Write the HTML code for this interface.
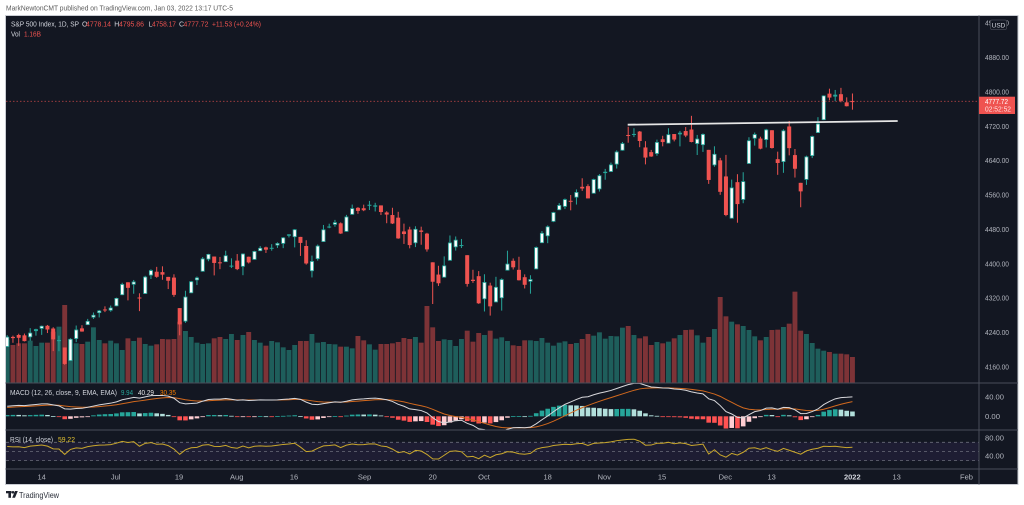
<!DOCTYPE html>
<html><head><meta charset="utf-8"><style>
html,body{margin:0;padding:0;background:#fff;}
svg{display:block;font-family:"Liberation Sans",sans-serif;}
</style></head><body>
<svg id="s" xmlns="http://www.w3.org/2000/svg" width="1024" height="505" viewBox="0 0 1024 505">
<rect width="1024" height="505" fill="#ffffff"/>
<text x="6" y="10.7" font-size="7.5" fill="#5a5a5a" textLength="227" lengthAdjust="spacingAndGlyphs">MarkNewtonCMT published on TradingView.com, Jan 03, 2022 13:17 UTC-5</text>
<rect x="5.5" y="15.5" width="1012.5" height="469" fill="#131722" stroke="#c9ccd3" stroke-width="1"/>
<defs>
<clipPath id="cm"><rect x="6" y="16" width="973" height="367"/></clipPath>
<clipPath id="cd"><rect x="6" y="383.5" width="973" height="46.5"/></clipPath>
<clipPath id="cr"><rect x="6" y="430.5" width="973" height="38.5"/></clipPath>
</defs>
<!-- RSI band -->
<rect x="6" y="442.3" width="973" height="18.3" fill="#1e1d33"/>
<g stroke="#787b86" stroke-width="0.8" stroke-dasharray="3 3" opacity="0.85">
<line x1="6" y1="442.3" x2="979" y2="442.3"/>
<line x1="6" y1="451.4" x2="979" y2="451.4"/>
<line x1="6" y1="460.6" x2="979" y2="460.6"/>
</g>
<g clip-path="url(#cm)"><g id="vol"></g><g id="cdl"></g>
<line x1="6" y1="101.3" x2="979" y2="101.3" stroke="#ef5350" stroke-width="0.8" stroke-dasharray="1.5 2" opacity="0.7"/>
<line x1="627.7" y1="124.7" x2="897.7" y2="121" stroke="#e6e6e6" stroke-width="1.8"/>
</g>
<g clip-path="url(#cd)"><g id="mh"></g><g id="ml"></g></g>
<g clip-path="url(#cr)"><g id="rl"></g></g>
<!-- separators -->
<g stroke="#4a4e5a" stroke-width="1">
<line x1="5.5" y1="383" x2="1018" y2="383"/>
<line x1="5.5" y1="430" x2="1018" y2="430"/>
<line x1="5.5" y1="469" x2="1018" y2="469"/>
<line x1="979" y1="15.5" x2="979" y2="484.5"/>
</g>
<!-- price axis -->
<g font-size="7.5" fill="#b2b5be">
<text x="985" y="25.6" textLength="24" lengthAdjust="spacingAndGlyphs">4960.00</text>
<text x="985" y="60" textLength="24" lengthAdjust="spacingAndGlyphs">4880.00</text>
<text x="985" y="94.4" textLength="24" lengthAdjust="spacingAndGlyphs">4800.00</text>
<text x="985" y="128.8" textLength="24" lengthAdjust="spacingAndGlyphs">4720.00</text>
<text x="985" y="163.2" textLength="24" lengthAdjust="spacingAndGlyphs">4640.00</text>
<text x="985" y="197.6" textLength="24" lengthAdjust="spacingAndGlyphs">4560.00</text>
<text x="985" y="231.9" textLength="24" lengthAdjust="spacingAndGlyphs">4480.00</text>
<text x="985" y="266.3" textLength="24" lengthAdjust="spacingAndGlyphs">4400.00</text>
<text x="985" y="300.7" textLength="24" lengthAdjust="spacingAndGlyphs">4320.00</text>
<text x="985" y="335.1" textLength="24" lengthAdjust="spacingAndGlyphs">4240.00</text>
<text x="985" y="369.5" textLength="24" lengthAdjust="spacingAndGlyphs">4160.00</text>
<text x="985" y="399.7" textLength="19" lengthAdjust="spacingAndGlyphs">40.00</text>
<text x="985" y="419" textLength="15" lengthAdjust="spacingAndGlyphs">0.00</text>
<text x="985" y="440.4" textLength="19" lengthAdjust="spacingAndGlyphs">80.00</text>
<text x="985" y="458.7" textLength="19" lengthAdjust="spacingAndGlyphs">40.00</text>
</g>
<rect x="990.5" y="20" width="16" height="9.5" rx="1.5" fill="#131722" stroke="#434651" stroke-width="0.8"/>
<text x="998.5" y="27.3" font-size="6.5" fill="#d1d4dc" text-anchor="middle">USD</text>
<rect x="979" y="96.7" width="36" height="17.3" fill="#ef5350"/>
<text x="985" y="104.2" font-size="7" fill="#ffffff" textLength="23" lengthAdjust="spacingAndGlyphs">4777.72</text>
<text x="985" y="111.6" font-size="7" fill="#ffe0e0" textLength="26" lengthAdjust="spacingAndGlyphs">02:52:52</text>
<!-- legend -->
<g font-size="7">
<text x="11" y="26.5" fill="#d1d4dc" textLength="68" lengthAdjust="spacingAndGlyphs">S&amp;P 500 Index, 1D, SP</text>
<text x="82" y="26.5" fill="#d1d4dc">O</text>
<text x="86" y="26.5" fill="#ef5350" textLength="25" lengthAdjust="spacingAndGlyphs">4778.14</text>
<text x="114.3" y="26.5" fill="#d1d4dc">H</text>
<text x="119" y="26.5" fill="#ef5350" textLength="25" lengthAdjust="spacingAndGlyphs">4795.86</text>
<text x="148.5" y="26.5" fill="#d1d4dc">L</text>
<text x="152" y="26.5" fill="#ef5350" textLength="24" lengthAdjust="spacingAndGlyphs">4758.17</text>
<text x="179" y="26.5" fill="#d1d4dc">C</text>
<text x="183.5" y="26.5" fill="#ef5350" textLength="25" lengthAdjust="spacingAndGlyphs">4777.72</text>
<text x="212" y="26.5" fill="#ef5350" textLength="49" lengthAdjust="spacingAndGlyphs">+11.53 (+0.24%)</text>
<text x="11" y="36.5" fill="#d1d4dc" textLength="9" lengthAdjust="spacingAndGlyphs">Vol</text>
<text x="24" y="36.5" fill="#ef5350" textLength="17" lengthAdjust="spacingAndGlyphs">1.16B</text>
<text x="10" y="395.2" fill="#d1d4dc" textLength="107" lengthAdjust="spacingAndGlyphs">MACD (12, 26, close, 9, EMA, EMA)</text>
<text x="121" y="395.2" fill="#26a69a" textLength="12" lengthAdjust="spacingAndGlyphs">9.94</text>
<text x="138" y="395.2" fill="#e6e6e6" textLength="16" lengthAdjust="spacingAndGlyphs">40.29</text>
<text x="160" y="395.2" fill="#f57c00" textLength="16" lengthAdjust="spacingAndGlyphs">30.35</text>
<text x="10" y="441.8" fill="#d1d4dc" textLength="43" lengthAdjust="spacingAndGlyphs">RSI (14, close)</text>
<text x="58" y="441.8" fill="#e3c231" textLength="17" lengthAdjust="spacingAndGlyphs">59.22</text>
</g>
<!-- time axis -->
<g font-size="7.5" fill="#b2b5be" text-anchor="middle">
<text x="41.7" y="479.5">14</text>
<text x="115.7" y="479.5">Jul</text>
<text x="179" y="479.5">19</text>
<text x="236.7" y="479.5">Aug</text>
<text x="294" y="479.5">16</text>
<text x="364.5" y="479.5">Sep</text>
<text x="432.7" y="479.5">20</text>
<text x="484" y="479.5">Oct</text>
<text x="547.7" y="479.5">18</text>
<text x="604.3" y="479.5">Nov</text>
<text x="662" y="479.5">15</text>
<text x="725.3" y="479.5">Dec</text>
<text x="771.7" y="479.5">13</text>
<text x="852.3" y="479.5" fill="#d1d4dc" font-weight="bold">2022</text>
<text x="896.7" y="479.5">13</text>
<text x="966.5" y="479.5">Feb</text>
</g>
<!-- bottom logo -->
<g fill="#1e222d">
<rect x="6" y="491" width="5.5" height="2.3"/>
<rect x="8.4" y="491" width="2.6" height="6.8"/>
<circle cx="13" cy="492.3" r="1.3"/>
<polygon points="15,491 17.8,491 15,497.8 12.2,497.8"/>
</g>
<text x="19" y="497.8" font-size="8.5" fill="#2a2e39" textLength="40" lengthAdjust="spacingAndGlyphs">TradingView</text>
</svg>
<script>
(function(){
var NS='http://www.w3.org/2000/svg';
function el(t,a,p){var e=document.createElementNS(NS,t);for(var k in a)e.setAttribute(k,a[k]);p.appendChild(e);return e;}
var W=[3940.59,3910.52,3889.14,3909.52,3974.54,3971.09,3958.55,3972.89,4019.87,4077.91,4073.94,4079.95,4097.17,4128.80,4127.99,4141.59,4124.66,4170.42,4185.47,4163.26,4134.94,4173.42,4134.98,4180.17,4187.62,4186.72,4183.18,4211.47,4181.17,4192.66,4164.66,4167.59,4201.62,4232.60,4188.43,4152.10,4063.04,4112.50,4173.85,4163.29,4127.83,4115.68,4159.12,4155.86,4197.05,4188.13,4195.99,4200.88,4204.11,4202.04,4208.12,4192.85];
var S="4206.05,4233.45,4206.05,4229.89|4229.34,4232.34,4215.66,4226.52|4233.81,4236.74,4208.41,4227.26|4232.99,4237.09,4218.74,4219.55|4228.56,4249.74,4220.34,4239.18|4242.90,4248.38,4232.25,4247.44|4248.31,4255.59,4234.07,4255.15|4255.28,4257.16,4238.35,4246.59|4248.87,4251.89,4196.30,4223.70|4220.37,4232.29,4196.05,4221.86|4204.78,4204.78,4164.40,4166.45|4173.40,4226.24,4173.40,4224.79|4224.61,4255.84,4217.27,4246.44|4249.27,4256.60,4241.43,4241.84|4256.97,4271.28,4256.97,4266.49|4274.45,4286.12,4271.16,4280.70|4284.90,4292.14,4274.67,4290.61|4293.21,4300.52,4287.04,4291.80|4290.65,4302.43,4287.96,4297.50|4300.73,4320.66,4300.73,4319.94|4326.60,4355.43,4326.60,4352.34|4356.46,4356.46,4314.37,4343.54|4351.01,4361.88,4329.79,4358.13|4321.07,4330.88,4289.37,4320.82|4329.38,4371.60,4329.38,4369.55|4372.41,4386.68,4364.03,4384.63|4381.07,4392.37,4366.92,4369.21|4380.11,4393.68,4362.36,4374.30|4369.02,4369.02,4340.70,4360.03|4367.43,4375.09,4322.53,4327.16|4296.40,4296.40,4233.13,4258.49|4265.11,4336.84,4262.05,4323.06|4331.13,4359.70,4331.13,4358.69|4361.27,4369.87,4350.06,4367.48|4381.20,4415.18,4381.20,4411.79|4409.58,4422.73,4405.45,4422.30|4416.38,4416.38,4372.51,4401.46|4402.95,4415.47,4387.01,4400.64|4403.59,4429.97,4403.59,4419.15|4395.12,4412.25,4389.65,4395.26|4406.86,4422.18,4384.81,4387.16|4392.74,4423.79,4373.00,4423.15|4415.95,4416.17,4400.23,4402.66|4408.86,4429.76,4408.86,4429.10|4429.07,4440.82,4429.07,4436.52|4437.77,4439.39,4424.74,4432.35|4435.79,4445.21,4430.03,4436.75|4442.18,4449.44,4436.42,4447.70|4446.08,4461.77,4435.96,4460.83|4464.84,4468.37,4460.82,4468.00|4461.65,4480.26,4437.66,4479.71|4462.12,4462.12,4417.83,4448.08|4440.94,4454.32,4397.59,4400.27|4382.44,4418.61,4367.73,4405.80|4410.56,4444.35,4406.80,4441.67|4450.29,4489.88,4450.29,4479.53|4484.40,4492.81,4482.28,4486.23|4490.45,4501.71,4485.66,4496.19|4493.75,4495.90,4468.99,4470.00|4474.10,4513.33,4474.10,4509.37|4513.76,4537.36,4513.76,4528.79|4529.75,4531.39,4515.80,4522.68|4528.80,4537.11,4522.02,4524.09|4534.48,4545.85,4524.66,4536.95|4532.42,4541.45,4521.30,4535.43|4535.38,4535.38,4513.00,4520.03|4519.00,4521.79,4493.95,4514.07|4513.02,4529.90,4492.07,4493.28|4506.92,4520.47,4457.66,4458.58|4474.81,4492.99,4445.70,4468.73|4479.33,4485.68,4435.46,4443.05|4447.49,4486.87,4438.37,4480.70|4477.09,4485.87,4443.80,4473.75|4469.74,4471.52,4427.76,4432.99|4402.95,4402.95,4305.91,4357.73|4374.45,4394.87,4347.96,4354.19|4367.43,4416.75,4367.43,4395.64|4406.75,4465.40,4406.75,4448.98|4438.04,4463.12,4430.27,4455.48|4442.12,4457.30,4436.19,4443.11|4419.54,4419.54,4346.33,4352.63|4362.41,4385.57,4355.08,4359.46|4370.67,4382.55,4306.24,4307.54|4317.16,4375.19,4288.52,4357.04|4348.84,4355.51,4278.94,4300.46|4309.87,4369.23,4309.87,4345.72|4319.57,4365.57,4290.49,4363.55|4383.73,4429.97,4383.73,4399.76|4406.51,4412.02,4386.22,4391.34|4385.44,4415.88,4360.59,4361.19|4368.31,4374.89,4342.09,4350.65|4358.01,4372.87,4329.92,4363.80|4386.75,4439.73,4386.75,4438.26|4447.69,4475.82,4447.69,4471.37|4463.72,4488.75,4447.47,4486.46|4497.34,4520.40,4496.41,4519.63|4524.42,4540.87,4524.40,4536.19|4532.24,4551.44,4526.89,4549.78|4546.12,4559.67,4524.00,4544.90|4553.69,4572.62,4537.36,4566.48|4578.69,4598.53,4569.17,4574.79|4580.22,4584.57,4551.66,4551.68|4562.84,4597.55,4562.84,4596.42|4572.87,4608.08,4567.59,4605.38|4610.62,4620.34,4595.06,4613.67|4613.34,4635.15,4613.34,4630.65|4630.65,4663.46,4621.19,4660.57|4662.93,4683.00,4662.59,4680.06|4699.26,4718.50,4681.32,4697.53|4701.48,4714.92,4694.39,4701.70|4707.25,4708.53,4670.87,4685.25|4670.26,4684.85,4630.86,4646.71|4659.39,4664.55,4648.31,4649.27|4655.24,4688.47,4650.77,4682.85|4689.30,4697.42,4672.86,4682.80|4679.42,4714.95,4679.42,4700.90|4701.50,4701.50,4684.41,4688.67|4700.72,4708.80,4672.78,4704.54|4708.44,4717.75,4694.22,4697.96|4712.00,4743.83,4682.17,4682.94|4678.48,4699.39,4652.66,4690.70|4675.78,4702.87,4659.89,4701.46|4664.63,4664.63,4585.43,4594.62|4628.75,4672.95,4625.26,4655.27|4640.25,4646.02,4560.00,4567.00|4602.82,4652.94,4510.27,4513.04|4504.73,4595.46,4504.73,4577.10|4589.49,4608.03,4495.12,4538.43|4548.37,4612.60,4540.51,4591.67|4631.97,4694.04,4631.97,4686.75|4690.86,4705.06,4674.52,4701.21|4691.00,4695.26,4665.98,4667.45|4687.64,4713.57,4670.24,4712.02|4710.30,4710.30,4667.60,4668.97|4642.99,4660.47,4606.52,4634.09|4636.46,4712.60,4611.22,4709.85|4719.13,4731.99,4651.89,4668.67|4652.50,4666.70,4600.22,4620.64|4587.90,4587.90,4531.10,4568.02|4594.96,4651.14,4583.16,4649.23|4650.36,4697.67,4645.53,4696.56|4703.96,4740.74,4703.96,4725.79|4733.99,4791.49,4733.99,4791.19|4795.49,4807.02,4780.04,4786.35|4788.64,4804.06,4778.08,4793.06|4794.23,4808.93,4775.33,4778.73|4775.21,4786.83,4765.75,4766.18|4778.14,4795.86,4758.17,4777.72";
var D=S.split('|').map(function(r){return r.split(',').map(Number);});
var VZ=[150,165,160,160,152,168,
158,158,125,110,45,148,160,162,155,112,
150,160,152,160,180,145,153,143,162,167,
163,147,148,147,95,123,141,158,162,160,
145,141,147,132,150,135,126,150,158,167,
153,157,172,180,165,153,153,132,158,156,
162,163,170,170,175,138,151,163,179,162,
162,160,156,144,147,141,158,48,112,153,
148,150,168,147,122,155,129,135,122,146,
142,153,166,168,151,151,153,144,158,167,
158,154,162,159,147,132,137,127,146,138,
139,113,108,135,145,139,165,156,160,155,
145,135,120,119,136,158,141,117,21,79,
95,103,108,120,139,151,141,120,119,111,
101,5,122,132,159,176,182,186,191,191,
193,201];
function X(i){return 41.7+5.75*i;}
function Y(p){return 91.7+(4800-p)*0.4297;}
var gV=document.getElementById('vol'),gC=document.getElementById('cdl');
D.forEach(function(d,k){
 var i=k-6,o=d[0],h=d[1],l=d[2],c=d[3],x=X(i),up=c>=o;
 var top=290+VZ[k]/3;
 el('rect',{x:(x-2.45).toFixed(2),y:top.toFixed(2),width:4.9,height:(383-top).toFixed(2),fill:up?'#1e5e5b':'#7d3337'},gV);
 el('rect',{x:(x-0.5).toFixed(2),y:Y(h).toFixed(2),width:1,height:Math.max(1,Y(l)-Y(h)).toFixed(2),fill:up?'#26a69a':'#ef5350'},gC);
 var yt=Y(Math.max(o,c)),yb=Y(Math.min(o,c)),bh=Math.max(1,yb-yt);
 if(up){
  el('rect',{x:(x-2).toFixed(2),y:yt.toFixed(2),width:4,height:bh.toFixed(2),fill:'#26a69a'},gC);
  if(bh>2)el('rect',{x:(x-1.2).toFixed(2),y:(yt+0.8).toFixed(2),width:2.4,height:(bh-1.6).toFixed(2),fill:'#ffffff'},gC);
 } else {
  el('rect',{x:(x-2).toFixed(2),y:yt.toFixed(2),width:4,height:bh.toFixed(2),fill:'#ef5350'},gC);
 }
});
var C=W.concat(D.map(function(d){return d[3];}));
function ema(a,n){var k=2/(n+1),r=[],e=a[0];for(var j=0;j<a.length;j++){e=j?k*a[j]+(1-k)*e:a[0];r.push(e);}return r;}
var e12=ema(C,12),e26=ema(C,26),m=C.map(function(v,j){return e12[j]-e26[j];}),s=ema(m,9),hs=m.map(function(v,j){return v-s[j];});
var gH=document.getElementById('mh'),gL=document.getElementById('ml');
var off=W.length,mp=[],sp=[];
function MY(v){return 416.3-v*0.4825;}
for(var k=0;k<D.length;k++){
 var t=off+k,i=k-6,x=X(i),hv=hs[t],pv=hs[t-1];
 var col=hv>=0?(hv>pv?'#26a69a':'#b2dfdb'):(hv<pv?'#ff5252':'#ffcdd2');
 var y1=MY(hv),y0=MY(0);
 el('rect',{x:(x-2.3).toFixed(2),y:Math.min(y0,y1).toFixed(2),width:4.6,height:Math.max(0.8,Math.abs(y1-y0)).toFixed(2),fill:col},gH);
 mp.push(x.toFixed(2)+','+MY(m[t]).toFixed(2));
 sp.push(x.toFixed(2)+','+MY(s[t]).toFixed(2));
}
el('polyline',{points:sp.join(' '),fill:'none',stroke:'#d2691e','stroke-width':1},gL);
el('polyline',{points:mp.join(' '),fill:'none',stroke:'#d8d8dc','stroke-width':1},gL);
var ag=0,al=0,rsi=[];
for(var j=1;j<C.length;j++){var ch=C[j]-C[j-1],g=Math.max(ch,0),lo=Math.max(-ch,0);
 if(j<=14){ag+=g/14;al+=lo/14;rsi[j]=(j==14)?100-100/(1+ag/al):null;}
 else{ag=(ag*13+g)/14;al=(al*13+lo)/14;rsi[j]=al==0?100:100-100/(1+ag/al);}}
var rp=[];
for(var k2=0;k2<D.length;k2++){var t2=off+k2;rp.push(X(k2-6).toFixed(2)+','+(437.7+(80-rsi[t2])*0.4583).toFixed(2));}
el('polyline',{points:rp.join(' '),fill:'none',stroke:'#c9a72c','stroke-width':1},document.getElementById('rl'));
})();
</script>
</body></html>
